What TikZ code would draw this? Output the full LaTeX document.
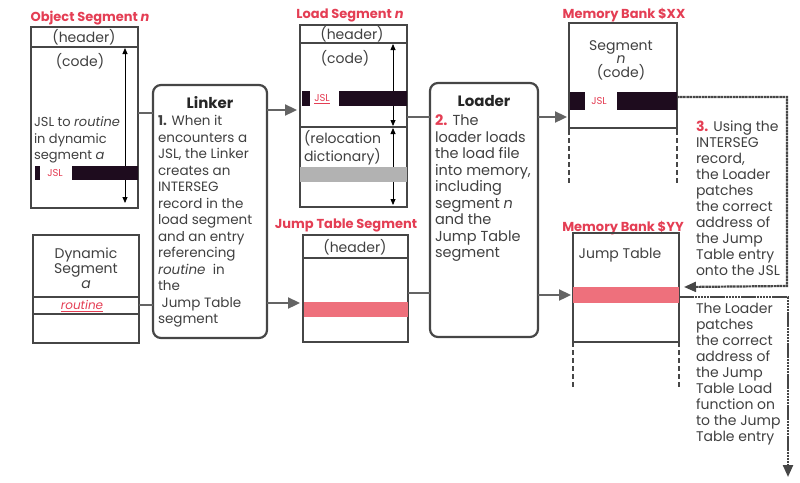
\documentclass[tikz,border=0pt]{standalone}
\usepackage{fontspec}
\setmainfont{Poppins}
\usepackage{tikz}
\usetikzlibrary{positioning,arrows.meta}

\definecolor{labelred}{RGB}{228,62,84}
\definecolor{pinkbar}{RGB}{238,112,124}
\definecolor{relocbar}{RGB}{178,178,178}
\definecolor{inkgray}{RGB}{70,70,70}
\definecolor{conngray}{RGB}{100,100,100}
\definecolor{jslbar}{RGB}{30,12,30}

\tikzset{
  segbox/.style={draw=inkgray, line width=1.3pt},
  procbox/.style={draw=inkgray, line width=2.2pt, rounded corners=8pt},
  seglabel/.style={text=labelred, font=\bfseries\fontsize{13}{15}\selectfont},
  segtext/.style={text=black!75, font=\fontsize{14}{16.5}\selectfont},
  bodytext/.style={text=black!75, font=\fontsize{13.5}{16.5}\selectfont, align=left, anchor=north west},
  notetext/.style={text=black!75, font=\fontsize{14}{16}\selectfont, align=left, anchor=north west},
  headtext/.style={text=black!85, font=\bfseries\fontsize{15}{17}\selectfont},
  conn/.style={draw=conngray, line width=2.3pt},
  connarrow/.style={conn, -{Triangle[length=12pt,width=11pt]}},
  spanarrow/.style={draw=black, line width=0.8pt, {Triangle[length=6pt,width=5pt]}-{Triangle[length=6pt,width=5pt]}},
  patchline/.style={draw=inkgray, line width=2.2pt, dash pattern=on 2.5pt off 0.6pt, -{Triangle[length=12pt,width=10pt]}},
  bankside/.style={draw=inkgray, line width=1.8pt},
  bankgap/.style={draw=inkgray, line width=2.4pt, dash pattern=on 5pt off 3pt},
}

\begin{document}
\begin{tikzpicture}[x=1pt,y=-1pt, every node/.style={inner sep=0pt, outer sep=0pt}]
\useasboundingbox (0,0) rectangle (800,482);

% object segment n
\node[seglabel] (objlabel) at (90,18) {Object Segment \textit{n}};
\node[segbox, minimum width=107pt, minimum height=181pt] (objseg) at (84.5,117.5) {};
\draw[segbox] (objseg.west |- 0,47) -- (objseg.east |- 0,47);
\draw[spanarrow] (125,48) -- (125,203);
\node[segtext] (objhead) at (84,37) {(header)};
\node[segtext] (objcode) at (80,61) {(code)};
\node[bodytext, font=\fontsize{13}{16.5}\selectfont] (objnote) at (34,117) {JSL to \textit{routine}\\in dynamic\\segment \textit{a}};
\node[fill=jslbar, minimum width=5pt, minimum height=14pt] (objstub) at (37.5,173) {};
\node[text=labelred, font=\fontsize{10}{12}\selectfont] (objjsl) at (55,173) {JSL};
\node[fill=jslbar, minimum width=66pt, minimum height=14pt] (objbar) at (105,173) {};

% dynamic segment a
\node[segbox, minimum width=106pt, minimum height=108pt] (dynseg) at (86,289) {};
\draw[segbox] (dynseg.west |- 0,297) -- (dynseg.east |- 0,297);
\draw[segbox] (dynseg.west |- 0,314) -- (dynseg.east |- 0,314);
\node[segtext, align=center, font=\fontsize{14}{15}\selectfont] (dyntext) at (86,268) {Dynamic\\Segment\\\textit{a}};
\node[text=labelred, font=\fontsize{12}{13}\selectfont] (dynroutine) at (82,306) {\underline{\textit{routine}}};

% linker
\node[procbox, minimum width=114pt, minimum height=253pt] (linker) at (210,211.5) {};
\node[headtext] (linkerhead) at (210,103) {Linker};
\node[bodytext] (linkertxt) at (158,115.5) {\textbf{1.} When it\\encounters a\\JSL, the Linker\\creates an\\INTERSEG\\record in the\\load segment\\and an entry\\referencing\\\textit{routine}\ \ in\\the\\\ Jump Table\\segment};

% load segment n
\node[seglabel] (loadlabel) at (350,15) {Load Segment \textit{n}};
\node[segbox, minimum width=107pt, minimum height=182pt] (loadseg) at (353.5,116) {};
\draw[segbox] (loadseg.west |- 0,43) -- (loadseg.east |- 0,43);
\draw[segbox] (loadseg.west |- 0,127) -- (loadseg.east |- 0,127);
\draw[spanarrow] (393,44) -- (393,126);
\draw[spanarrow] (393,128) -- (393,205);
\node[segtext] (loadhead) at (352,34) {(header)};
\node[segtext] (loadcode) at (345,58) {(code)};
\node[fill=jslbar, minimum width=8pt, minimum height=15pt] (loadstub) at (306,98.5) {};
\node[text=labelred, font=\fontsize{10}{12}\selectfont] (loadjsl) at (322,99) {\underline{JSL}};
\node[fill=jslbar, minimum width=68pt, minimum height=15pt] (loadbar) at (373,98.5) {};
\node[bodytext, font=\fontsize{14}{18}\selectfont] (loadreloc) at (304,130) {(relocation\\dictionary)};
\node[fill=relocbar, minimum width=107pt, minimum height=15pt] (relocbar) at (353.5,174.5) {};

% jump table segment
\node[seglabel] (jtlabel) at (346,225) {Jump Table Segment};
\node[segbox, minimum width=105pt, minimum height=107pt] (jtseg) at (355.5,288.5) {};
\draw[segbox] (jtseg.west |- 0,258) -- (jtseg.east |- 0,258);
\node[segtext] (jthead) at (355,247) {(header)};
\node[fill=pinkbar, minimum width=104pt, minimum height=15pt] (jtbar) at (355.5,309.5) {};

% loader
\node[procbox, minimum width=108pt, minimum height=254pt] (loader) at (484,210) {};
\node[headtext] (loaderhead) at (484,101) {Loader};
\node[bodytext, font=\fontsize{14.5}{16.5}\selectfont] (loadertxt) at (435,115) {\textbf{\textcolor{labelred}{2.}} The\\loader loads\\the load file\\into memory,\\including\\segment \textit{n}\\and the\\Jump Table\\segment};

% memory bank $XX
\node[seglabel] (xxlabel) at (624,15) {Memory Bank \$XX};
\node[minimum width=108pt, minimum height=107pt] (bankxx) at (623,76.5) {};
\draw[bankside] (bankxx.south west) |- (bankxx.north east) -- (bankxx.south east);
\draw[bankside] ([yshift=2pt]bankxx.south west) -- ([yshift=2pt]bankxx.south east);
\draw[bankgap] (bankxx.south west) -- ++(0,53);
\draw[bankgap] (bankxx.south east) -- ++(0,53);
\node[segtext, align=center, font=\fontsize{14}{13}\selectfont] (xxtext) at (621,60) {Segment\\\textit{n}\\(code)};
\node[fill=jslbar, minimum width=15pt, minimum height=18pt] (xxstub) at (577.5,101) {};
\node[text=labelred, font=\fontsize{10}{12}\selectfont] (xxjsl) at (599,101) {JSL};
\node[fill=jslbar, minimum width=60pt, minimum height=18pt] (xxbar) at (647,101) {};

% memory bank $YY
\node[seglabel] (yylabel) at (623,228) {Memory Bank \$YY};
\node[minimum width=106pt, minimum height=109pt] (bankyy) at (626,287.5) {};
\draw[bankside] (bankyy.south west) |- (bankyy.north east) -- (bankyy.south east);
\draw[bankside] (bankyy.south west) -- (bankyy.south east);
\draw[bankgap] (bankyy.south west) -- ++(0,45);
\draw[bankgap] (bankyy.south east) -- ++(0,45);
\node[segtext] (yytext) at (620,255) {Jump Table};
\node[fill=pinkbar, minimum width=106pt, minimum height=16pt] (yybar) at (626,295) {};

% notes on the right
\node[notetext] (patchnote) at (696,120.5) {\textbf{\textcolor{labelred}{3.}} Using the\\INTERSEG\\record,\\the Loader\\patches\\the correct\\address of\\the Jump\\Table entry\\onto the JSL};
\node[notetext] (loadnote) at (696,303.5) {The Loader\\patches\\the correct\\address of\\the Jump\\Table Load\\function on\\to the Jump\\Table entry};

% connectors
\coordinate (rowa) at (0,113);
\coordinate (rowb) at (0,110);
\coordinate (rowc) at (0,117);
\coordinate (rowd) at (0,305);
\coordinate (rowe) at (0,303);
\coordinate (rowf) at (0,293);
\coordinate (rowg) at (0,295);
\draw[conn] (objseg.east |- rowa) -- (linker.west |- rowa);
\draw[conn] (dynseg.east |- rowd) -- (linker.west |- rowd);
\draw[connarrow] (linker.east |- rowb) -- ([xshift=-3pt]loadseg.west |- rowb);
\draw[connarrow] (linker.east |- rowe) -- ([xshift=-3pt]jtseg.west |- rowe);
\draw[conn] (loadseg.east |- rowc) -- (loader.west |- rowc);
\draw[conn] (jtseg.east |- rowf) -- (loader.west |- rowf);
\draw[connarrow] (loader.east |- rowc) -- ([xshift=-2pt]bankxx.west |- rowc);
\draw[connarrow] (loader.east |- rowg) -- ([xshift=-2pt]bankyy.west |- rowg);

\coordinate (patchturn) at (787,286);
\coordinate (loadturn) at (788,477);
\draw[patchline] ([yshift=4pt]xxbar.east) -| (patchturn) -- ([xshift=5pt]yybar.north east);
\draw[patchline] ([yshift=-2pt]yybar.east) -| (loadturn);
\end{tikzpicture}
\end{document}
